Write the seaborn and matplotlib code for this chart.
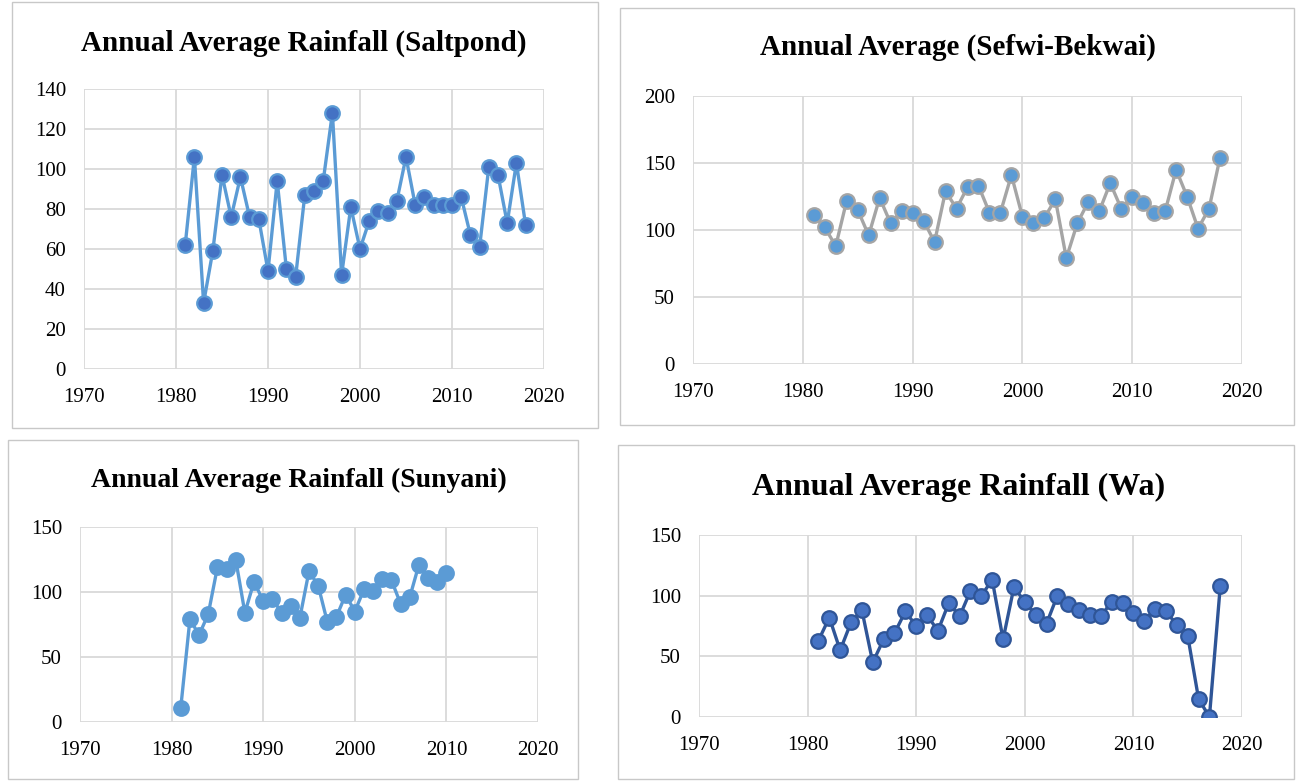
import matplotlib
matplotlib.use("Agg")
import matplotlib.pyplot as plt
import seaborn as sns
from matplotlib.patches import Rectangle

# Data
years = list(range(1981, 2019))
years_sunyani = list(range(1981, 2011))

saltpond = [62, 106, 33, 59, 97, 76, 96, 76, 75, 49, 94, 50, 46, 87, 89, 94, 128, 47, 81, 60,
            74, 79, 78, 84, 106, 82, 86, 82, 82, 82, 86, 67, 61, 101, 97, 73, 103, 72]
sefwi = [111, 102, 88, 122, 115, 96, 124, 105, 114, 113, 107, 91, 129, 116, 132, 133, 113, 113, 141, 110,
         105, 109, 123, 79, 105, 121, 114, 135, 116, 125, 120, 113, 114, 145, 125, 101, 116, 154]
sunyani = [11, 79, 67, 83, 119, 118, 125, 84, 108, 93, 95, 84, 89, 80, 116, 105, 77, 81, 98, 85,
           102, 101, 110, 109, 91, 96, 121, 111, 108, 115]
wa = [63, 82, 55, 78, 88, 45, 64, 69, 87, 75, 84, 71, 94, 83, 104, 100, 113, 64, 107, 95,
      84, 77, 100, 93, 88, 84, 83, 95, 94, 86, 79, 89, 87, 76, 67, 15, 0, 108]

sns.set_theme(style="white")
plt.rcParams['font.family'] = ['Liberation Serif', 'DejaVu Serif']
plt.rcParams['text.color'] = 'black'

W, H = 1296, 781
fig = plt.figure(figsize=(W / 100, H / 100), dpi=100)


def px_axes(x0, y0, x1, y1):
    # pixel box (left, top, right, bottom) -> figure axes
    return fig.add_axes([x0 / W, 1 - y1 / H, (x1 - x0) / W, (y1 - y0) / H])


def frame(x0, y0, x1, y1):
    fig.patches.append(Rectangle((x0 / W, 1 - y1 / H), (x1 - x0) / W, (y1 - y0) / H,
                                 transform=fig.transFigure, fill=False,
                                 edgecolor='#C8C8C8', lw=1.0))


panels = [
    dict(box=(12, 2, 598, 428), ax=(84, 89, 544, 369), x=years, y=saltpond,
         title="Annual Average Rainfall (Saltpond)", ty=43, tx=304, tsize=21,
         line='#5B9BD5', face='#4472C4', edge='#5B9BD5', ymax=140, ystep=20),
    dict(box=(620, 8, 1294, 425), ax=(693, 96, 1242, 364), x=years, y=sefwi,
         title="Annual Average (Sefwi-Bekwai)", ty=47, tx=958, tsize=21,
         line='#A5A5A5', face='#5B9BD5', edge='#A5A5A5', ymax=200, ystep=50),
    dict(box=(8, 440, 578, 779), ax=(80, 527, 538, 722), x=years_sunyani, y=sunyani,
         title="Annual Average Rainfall (Sunyani)", ty=480, tx=299, tsize=20,
         line='#5B9BD5', face='#5B9BD5', edge='#5B9BD5', ymax=150, ystep=50),
    dict(box=(618, 445, 1294, 779), ax=(699, 535, 1242, 717), x=years, y=wa,
         title="Annual Average Rainfall (Wa)", ty=487, tx=959, tsize=23,
         line='#2F5597', face='#4472C4', edge='#2F5597', ymax=150, ystep=50),
]

for p in panels:
    frame(*p['box'])
    ax = px_axes(*p['ax'])
    sns.lineplot(x=p['x'], y=p['y'], ax=ax, color=p['line'], linewidth=2.4,
                 marker='o', markersize=10.5, markerfacecolor=p['face'],
                 markeredgecolor=p['edge'], markeredgewidth=1.6)
    ax.set_xlim(1970, 2020)
    ax.set_ylim(0, p['ymax'])
    ax.set_xticks(range(1970, 2021, 10))
    ax.set_yticks(range(0, p['ymax'] + 1, p['ystep']))
    ax.set_xlabel("")
    ax.set_ylabel("")
    ax.grid(True, color='#D9D9D9', linewidth=1.3)
    ax.set_axisbelow(True)
    for s in ax.spines.values():
        s.set_visible(False)
    ax.tick_params(axis='both', length=0, labelsize=15, colors='black')
    ax.tick_params(axis='x', pad=14)
    ax.tick_params(axis='y', pad=13)
    fig.text(p['tx'] / W, 1 - p['ty'] / H, p['title'], ha='center', va='center',
             fontsize=p['tsize'], fontweight='bold', color='black')

fig.savefig("out.png", dpi=100)
